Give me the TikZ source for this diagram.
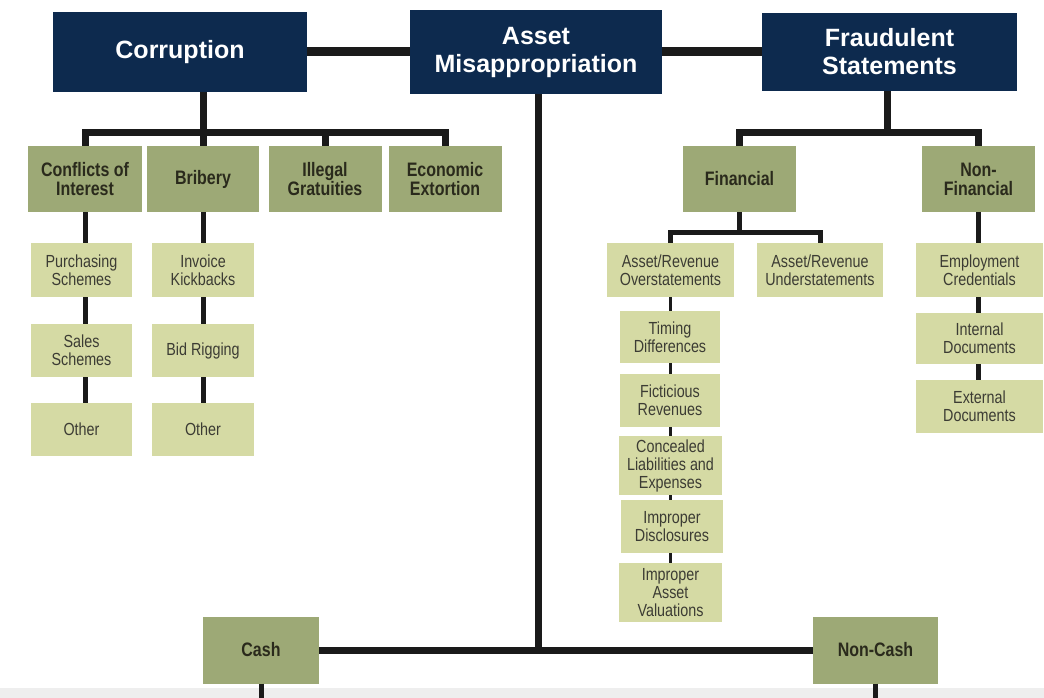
\documentclass[tikz,border=0pt]{standalone}
\usepackage{fontspec}
\setmainfont{Liberation Sans}
\newfontfamily\hdrfont{Liberation Sans}
\newfontfamily\condfont[FakeStretch=0.82]{Liberation Sans}
\usetikzlibrary{calc}
\definecolor{navy}{HTML}{0D2A4E}
\definecolor{olive}{HTML}{9DA976}
\definecolor{pale}{HTML}{D5DAA4}
\definecolor{ink}{HTML}{1A1A1A}
\definecolor{txtdark}{HTML}{2A2A1C}
\definecolor{txtgray}{HTML}{3C3C34}
\definecolor{band}{HTML}{EEEEEE}
\begin{document}
\begin{tikzpicture}[x=1pt,y=-1pt,
 box/.style={rectangle, inner sep=0pt, align=center},
 hdr/.style={box, fill=navy, text=white, font=\hdrfont\bfseries\fontsize{25}{28}\selectfont},
 cat/.style={box, fill=olive, text=txtdark, font=\condfont\bfseries\fontsize{19.5}{19}\selectfont},
 sub/.style={box, fill=pale, text=txtgray, font=\condfont\fontsize{17.5}{18}\selectfont},
 heavy/.style={draw=ink, line width=9pt},
 main/.style={draw=ink, line width=7pt},
 thinl/.style={draw=ink, line width=5pt},
 finel/.style={draw=ink, line width=3.5pt},
]
\useasboundingbox (0,0) rectangle (1044,698);
\fill[white] (0,0) rectangle (1044,698);
\fill[band] (0,688) rectangle (1044,698);

% top level
\node[hdr, minimum width=254, minimum height=80] (corr) at (180,52) {Corruption};
\node[hdr, minimum width=252, minimum height=84] (asset) at (536,52) {Asset\\Misappropriation};
\node[hdr, minimum width=255, minimum height=78] (fraud) at (889.5,52) {Fraudulent\\Statements};

% level 2
\node[cat, minimum width=114, minimum height=66] (coi) at (85,179) {Conflicts of\\Interest};
\node[cat, minimum width=112, minimum height=66] (bri) at (203,179) {Bribery};
\node[cat, minimum width=113, minimum height=66] (ill) at (325,179) {Illegal\\Gratuities};
\node[cat, minimum width=113, minimum height=66] (eco) at (445,179) {Economic\\Extortion};
\node[cat, minimum width=113, minimum height=66] (fin) at (739.5,179) {Financial};
\node[cat, minimum width=113, minimum height=66] (nfin) at (978.5,179) {Non-\\Financial};

% level 3 corruption
\node[sub, minimum width=101, minimum height=54] (ps) at (81.5,270) {Purchasing\\Schemes};
\node[sub, minimum width=101, minimum height=53] (ss) at (81.5,350.5) {Sales\\Schemes};
\node[sub, minimum width=101, minimum height=53] (oa) at (81.5,429.5) {Other};
\node[sub, minimum width=102, minimum height=54] (ik) at (203,270) {Invoice\\Kickbacks};
\node[sub, minimum width=102, minimum height=53] (bid) at (203,350.5) {Bid Rigging};
\node[sub, minimum width=102, minimum height=53] (ob) at (203,429.5) {Other};

% level 3 financial
\node[sub, minimum width=127, minimum height=54] (ov) at (670.5,270) {Asset/Revenue\\Overstatements};
\node[sub, minimum width=126, minimum height=54] (un) at (820,270) {Asset/Revenue\\Understatements};
\node[sub, minimum width=100, minimum height=52] (tim) at (670,337) {Timing\\Differences};
\node[sub, minimum width=100, minimum height=53] (fic) at (670,400.5) {Ficticious\\Revenues};
\node[sub, minimum width=103, minimum height=59] (con) at (670.5,465.5) {Concealed\\Liabilities and\\Expenses};
\node[sub, minimum width=102, minimum height=53] (dis) at (672,526.5) {Improper\\Disclosures};
\node[sub, minimum width=103, minimum height=59] (val) at (670.5,592.5) {Improper\\Asset\\Valuations};

% level 3 non-financial
\node[sub, minimum width=127, minimum height=54] (emp) at (979.5,270) {Employment\\Credentials};
\node[sub, minimum width=127, minimum height=51] (int) at (979.5,338.5) {Internal\\Documents};
\node[sub, minimum width=127, minimum height=53] (ext) at (979.5,406.5) {External\\Documents};

% asset misappropriation
\node[cat, minimum width=116, minimum height=67] (cash) at (261,650) {Cash};
\node[cat, minimum width=125, minimum height=67] (ncash) at (875.5,650) {Non-Cash};

% connectors
\draw[heavy] (corr.east) -- (asset.west);
\draw[heavy] (asset.east) -- (fraud.west);

\coordinate (cb) at (203,133);
\draw[main] (corr.south -| cb) -- (cb);
\draw[main] (coi.north) -- (coi.north |- cb) -- (eco.north |- cb) -- (eco.north);
\draw[main] (bri.north) -- (bri.north |- cb);
\draw[main] (ill.north) -- (ill.north |- cb);

\coordinate (fb) at (887,133);
\draw[main] (fraud.south -| fb) -- (fb);
\draw[main] (fin.north) -- (fin.north |- fb) -- (nfin.north |- fb) -- (nfin.north);

\coordinate (fnb) at (740,232);
\draw[thinl] (fin.south) -- (fin.south |- fnb);
\draw[thinl] (ov.north) -- (ov.north |- fnb) -- (un.north |- fnb) -- (un.north);

\draw[thinl] (coi.south) -- (coi.south |- ps.north);
\draw[thinl] (ps.south -| coi.south) -- (ss.north -| coi.south);
\draw[thinl] (ss.south -| coi.south) -- (oa.north -| coi.south);
\draw[thinl] (bri.south) -- (bri.south |- ik.north);
\draw[thinl] (ik.south -| bri.south) -- (bid.north -| bri.south);
\draw[thinl] (bid.south -| bri.south) -- (ob.north -| bri.south);

\draw[finel] (ov.south) -- (tim.north -| ov.south);
\draw[finel] (tim.south -| ov.south) -- (fic.north -| ov.south);
\draw[finel] (fic.south -| ov.south) -- (con.north -| ov.south);
\draw[finel] (con.south -| ov.south) -- (dis.north -| ov.south);
\draw[finel] (dis.south -| ov.south) -- (val.north -| ov.south);

\draw[thinl] (nfin.south) -- (nfin.south |- emp.north);
\draw[thinl] (emp.south -| nfin.south) -- (int.north -| nfin.south);
\draw[thinl] (int.south -| nfin.south) -- (ext.north -| nfin.south);

\coordinate (ab) at (538,650);
\draw[main] (asset.south -| ab) -- (ab);
\draw[main] (cash.east) -- (ncash.west);

\coordinate (bot) at (0,698);
\draw[thinl] (cash.south) -- (cash.south |- bot);
\draw[thinl] (ncash.south) -- (ncash.south |- bot);
\end{tikzpicture}
\end{document}
